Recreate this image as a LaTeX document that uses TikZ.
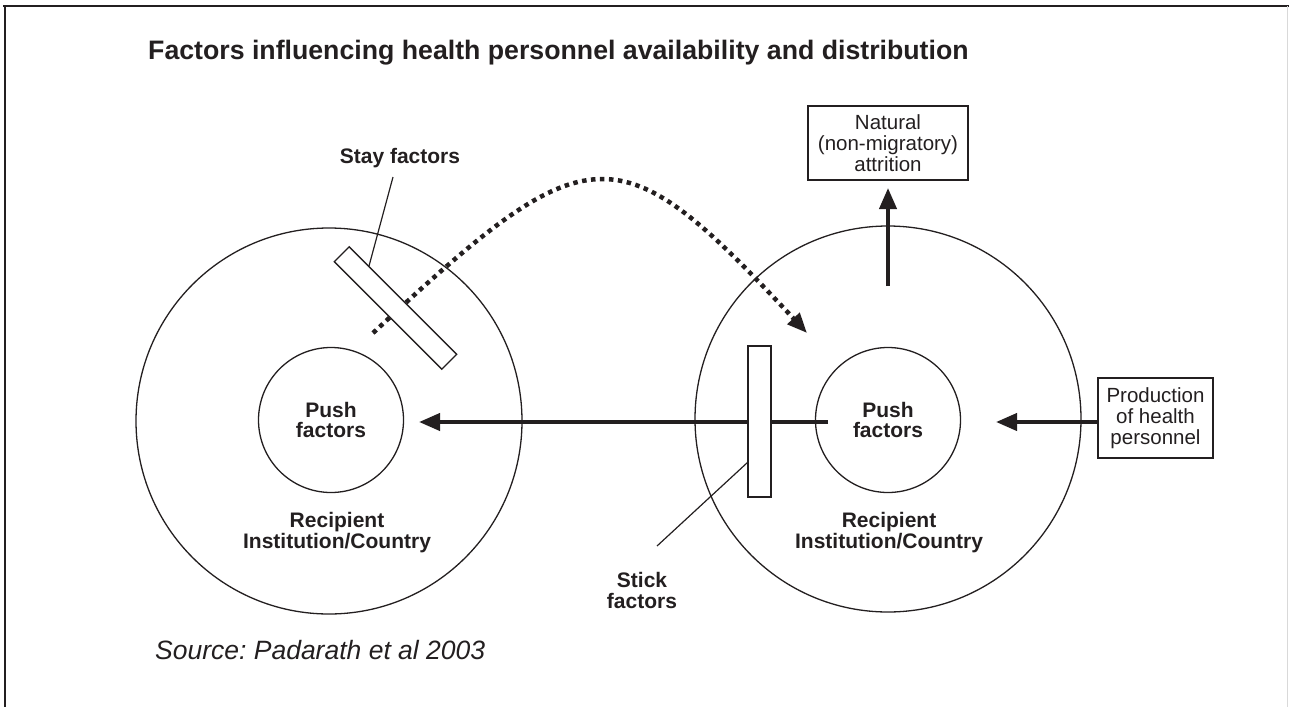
\documentclass[tikz,border=0pt]{standalone}
\usepackage{fontspec}
\setmainfont{Liberation Sans}
\usetikzlibrary{arrows.meta}
\definecolor{ink}{RGB}{35,31,32}
\frenchspacing
\tikzset{
  thin line/.style={draw=ink, line width=1.3pt},
  big circle/.style={circle, thin line, inner sep=0pt, minimum size=386pt},
  push circle/.style={circle, thin line, inner sep=0pt, minimum size=145pt, align=center,
    font=\bfseries\fontsize{21}{20.5}\selectfont, text=ink},
  boldlabel/.style={align=center, font=\bfseries\fontsize{21}{21}\selectfont, text=ink, inner sep=0pt},
  boxlabel/.style={draw=ink, line width=2.4pt, align=center, inner sep=0pt,
    font=\fontsize{20.5}{21}\selectfont, text=ink},
  barbox/.style={thin line, fill=white, inner sep=0pt},
  flow/.style={draw=ink, line width=4pt, -{Triangle[length=21pt,width=17pt]}},
  dotflow/.style={draw=ink, line width=4.5pt, dash pattern=on 4.5pt off 4.5pt,
    -{Triangle[length=20pt,width=16pt]}},
  leader/.style={draw=ink, line width=1.2pt},
}
\begin{document}
\begin{tikzpicture}[x=1pt,y=-1pt]
\useasboundingbox (0,0) rectangle (1289,707);
% frame
\draw[draw=ink, line width=2pt] (3,6) -- (1289,6);
\draw[draw=ink, line width=2pt] (5,5) -- (5,707);
\draw[draw=black!15, line width=1.5pt] (1287.5,6) -- (1287.5,707);

% title and source
\node[anchor=west, inner sep=0pt, text=ink, font=\bfseries\fontsize{26.7}{30}\selectfont] (title) at (148,53)
  {Factors influencing health personnel availability and distribution};
\node[anchor=west, inner sep=0pt, text=ink, font=\itshape\fontsize{26.5}{30}\selectfont] (source) at (155,650)
  {Source: Padarath et al 2003};

% circles
\node[big circle] (Lbig) at (329,421) {};
\node[big circle] (Rbig) at (888,419) {};
\node[push circle] (Lpush) at (331,420) {Push\\factors};
\node[push circle] (Rpush) at (888,420) {Push\\factors};
\node[boldlabel] (Lrec) at (337,533) {Recipient\\Institution/Country};
\node[boldlabel] (Rrec) at (889,533) {Recipient\\Institution/Country};

% boxes
\node[boxlabel, minimum width=160pt, minimum height=74pt] (nat) at (888,143)
  {Natural\\(non-migratory)\\attrition};
\node[boxlabel, minimum width=115pt, minimum height=80pt] (prod) at (1155.5,418)
  {Production\\of health\\personnel};

% arrows
\coordinate (pushsrc) at (828,422);
\coordinate (lefttip) at (419,422);
\draw[flow] (pushsrc) -- (lefttip);
\coordinate (righttip) at (996,422);
\draw[flow] (prod.west |- righttip) -- (righttip);
\coordinate (upsrc) at (888,286);
\draw[flow] (upsrc) -- (nat.south |- 0,188);

% dotted migration curve
\coordinate (dotstart) at (373,333);
\coordinate (dotend) at (807,333);
\draw[dotflow] (dotstart) .. controls (591,130) and (618,130) .. (dotend);

% stay factors bar
\node[barbox, minimum width=152pt, minimum height=21pt, rotate=-45] (stay) at (395.5,308) {};
\node[boldlabel] (staylbl) at (400,158) {Stay factors};
\coordinate (stayA) at (393,177);
\coordinate (stayB) at (369,266);
\draw[leader] (stayA) -- (stayB);

% stick factors bar
\node[barbox, minimum width=23pt, minimum height=151pt] (stick) at (759.5,421.5) {};
\node[boldlabel] (sticklbl) at (642,590) {Stick\\factors};
\coordinate (stickA) at (748,462);
\coordinate (stickB) at (657,546);
\draw[leader] (stickA) -- (stickB);
\end{tikzpicture}
\end{document}
